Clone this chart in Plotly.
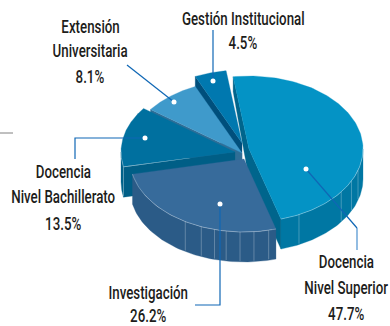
import numpy as np
import plotly.graph_objects as go

# ---- data ----
categories = ["Docencia Nivel Superior", "Investigación", "Docencia Nivel Bachillerato",
              "Extensión Universitaria", "Gestión Institucional"]
values = [47.7, 26.2, 13.5, 8.1, 4.5]
label_rows = [["Docencia", "Nivel Superior"], ["Investigación"], ["Docencia", "Nivel Bachillerato"],
              ["Extensión", "Universitaria"], ["Gestión Institucional"]]

# ---- styling / layout ----
FONT = "Roboto, sans-serif"
TEXT = "#1d1d1b"
RX, RY, DEPTH, START = 114, 73, 30, -8
apex = [(249, 149), (244, 159), (235, 152), (242, 153), (242, 143)]
top_col = ["#0493C5", "#376B9B", "#00709F", "#3F9ACB", "#0078AF"]
arc_col = ["#0077A3", "#2B5B87", "#00628A", "#2F6E96", "#005A8A"]
cut_col = ["#00658C", "#2B5B87", "#005E86", "#2F6E96", "#004F7C"]
start_cut_depth = [15, 30, 30, 30, 30]
ribs = [[107, 116, 126, 154], [167.5, 175, 182, 189, 195, 202, 211], [258], [], []]
draw_order = [4, 3, 2, 0, 1]
text_pos = [[(346, 262), (346, 288), (346, 314)], [(148, 293), (148, 316)],
            [(63, 172), (63, 197), (63, 224)], [(90, 27), (90, 51), (90, 77)], [(243, 19), (243, 43)]]
leaders = [[(306, 169), (357, 228)], [(220, 204), (220, 305), (195, 305)],
           [(145, 138), (75, 138), (75, 159)], [(174, 102), (127, 65)], [(213, 81), (213, 30)]]
leader_tail = [(357, 228), (357, 250)]

spans = np.array(values) / sum(values) * 360
a0s = START + np.concatenate([[0], np.cumsum(spans)[:-1]])


def pt(i, a, dz=0.0):
    r = np.radians(a)
    return apex[i][0] + RX * np.sin(r), apex[i][1] - RY * np.cos(r) + dz


def poly(xs, ys, color):
    return go.Scatter(x=list(xs), y=list(ys), mode="lines", fill="toself", fillcolor=color,
                      line=dict(color=color, width=0.3), hoverinfo="skip", showlegend=False)


fig = go.Figure()
for i in draw_order:
    a0, a1 = a0s[i], a0s[i] + spans[i]
    ax, ay = apex[i]
    for a, sgn, d in ((a0, -1, start_cut_depth[i]), (a1, 1, DEPTH)):
        r = np.radians(a)
        if sgn * np.sin(r) > 0:
            px, py = pt(i, a)
            fig.add_trace(poly([ax, px, px, ax, ax], [ay, py, py + d, ay + DEPTH, ay], cut_col[i]))
    lo, hi = max(a0, 90), min(a1, 270)
    if hi > lo:
        aa = np.linspace(lo, hi, 60)
        xs, ys = pt(i, aa)
        fig.add_trace(poly(np.r_[xs, xs[::-1], xs[0]], np.r_[ys, ys[::-1] + DEPTH, ys[0]], arc_col[i]))
    aa = np.linspace(a0, a1, 120)
    xs, ys = pt(i, aa)
    fig.add_trace(poly(np.r_[ax, xs, ax], np.r_[ay, ys, ay], top_col[i]))
    if hi > lo:
        aa = np.linspace(lo, hi, 60)
        xs, ys = pt(i, aa)
        fig.add_trace(go.Scatter(x=xs, y=ys, mode="lines", line=dict(color="rgba(255,255,255,0.45)", width=0.7),
                                 hoverinfo="skip", showlegend=False))
    for a in ribs[i]:
        xr, yr = pt(i, a)
        fig.add_trace(go.Scatter(x=[xr, xr], y=[yr, yr + DEPTH - 1], mode="lines",
                                 line=dict(color="rgba(255,255,255,0.38)", width=0.7),
                                 hoverinfo="skip", showlegend=False))

fig.add_trace(go.Scatter(x=[p[0] for p in leader_tail], y=[p[1] for p in leader_tail], mode="lines",
                         line=dict(color="#4A90CF", width=1.2), hoverinfo="skip", showlegend=False))
for path in leaders:
    fig.add_trace(go.Scatter(x=[p[0] for p in path], y=[p[1] for p in path], mode="lines",
                             line=dict(color="#0F67B5", width=1.2), hoverinfo="skip", showlegend=False))
    fig.add_trace(go.Scatter(x=[path[0][0]], y=[path[0][1]], mode="markers",
                             marker=dict(color="white", size=5), hoverinfo="skip", showlegend=False))

fig.add_trace(go.Scatter(x=[0, 13], y=[133, 133], mode="lines", line=dict(color="#808080", width=1),
                         hoverinfo="skip", showlegend=False))

for i, rows in enumerate(label_rows):
    for row, (x, y) in zip(rows + [f"{values[i]}%"], text_pos[i]):
        fig.add_annotation(x=x, y=y, text=row, showarrow=False, xanchor="center", yanchor="middle",
                           font=dict(family=FONT, size=18.5, color=TEXT, weight=500))

fig.update_layout(width=390, height=326, margin=dict(l=0, r=0, t=0, b=0),
                  paper_bgcolor="white", plot_bgcolor="white", showlegend=False,
                  xaxis=dict(range=[0, 390], visible=False, fixedrange=True),
                  yaxis=dict(range=[326, 0], visible=False, fixedrange=True))
narrow = """document.body.style.margin='0';
document.querySelectorAll('.annotation-text').forEach(function(t){
  t.style.transformBox='fill-box'; t.style.transformOrigin='center'; t.style.transform='scaleX(0.72)';
});"""
fig.write_html("out.html", config=dict(displayModeBar=False), post_script=narrow)
